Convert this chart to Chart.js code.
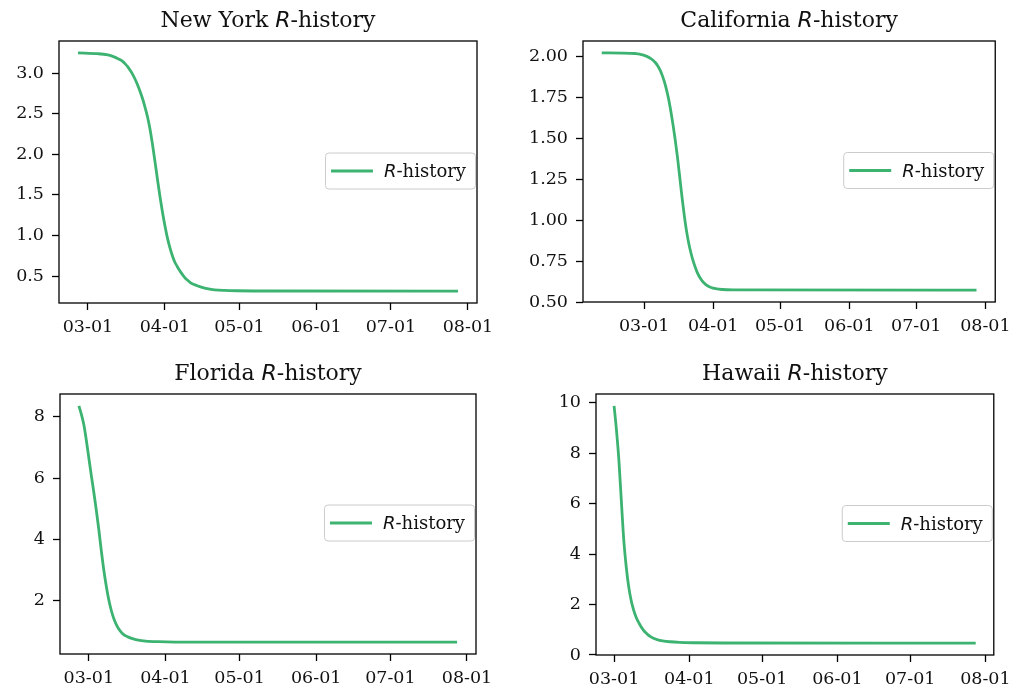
<!DOCTYPE html>
<html>
<head>
<meta charset="utf-8">
<script src="https://cdn.jsdelivr.net/npm/chart.js@4.4.0/dist/chart.umd.min.js"></script>
<style>
    body { margin: 0; background: #fff; }
    #wrap { position: relative; width: 1018px; height: 687px; }
    canvas { position: absolute; }
</style>
</head>
<body>
<div id="wrap">
    <canvas id="nyChart" width="509" height="343" style="left:0;top:0"></canvas>
    <canvas id="caChart" width="509" height="343" style="left:509px;top:0"></canvas>
    <canvas id="flChart" width="509" height="344" style="left:0;top:343px"></canvas>
    <canvas id="hiChart" width="509" height="344" style="left:509px;top:343px"></canvas>
</div>
<script>
// Values
const seriesLabel = 'R-history';

const nyDates = ['2020-02-26', '2020-03-05', '2020-03-09', '2020-03-11', '2020-03-12', '2020-03-13',
    '2020-03-14', '2020-03-15', '2020-03-16', '2020-03-17', '2020-03-18', '2020-03-19', '2020-03-20',
    '2020-03-21', '2020-03-22', '2020-03-23', '2020-03-24', '2020-03-25', '2020-03-26', '2020-03-27',
    '2020-03-28', '2020-03-29', '2020-03-30', '2020-03-31', '2020-04-01', '2020-04-02', '2020-04-03',
    '2020-04-04', '2020-04-05', '2020-04-06', '2020-04-07', '2020-04-08', '2020-04-09', '2020-04-10',
    '2020-04-11', '2020-04-12', '2020-04-14', '2020-04-16', '2020-04-18', '2020-04-21', '2020-04-25',
    '2020-04-30', '2020-05-15', '2020-07-28'];
const nyValues = [3.25, 3.24, 3.225, 3.207, 3.195, 3.18, 3.165, 3.145, 3.115, 3.08, 3.035, 2.985, 2.925,
    2.855, 2.775, 2.685, 2.58, 2.46, 2.31, 2.12, 1.91, 1.69, 1.48, 1.29, 1.12, 0.97, 0.85,
    0.75, 0.67, 0.615, 0.565, 0.52, 0.48, 0.45, 0.425, 0.405, 0.38, 0.36, 0.345, 0.33, 0.322,
    0.318, 0.315, 0.314];

const caDates = ['2020-02-11', '2020-02-20', '2020-02-26', '2020-02-28', '2020-03-01', '2020-03-02',
    '2020-03-03', '2020-03-04', '2020-03-05', '2020-03-06', '2020-03-07', '2020-03-08', '2020-03-09',
    '2020-03-10', '2020-03-11', '2020-03-12', '2020-03-13', '2020-03-14', '2020-03-15', '2020-03-16',
    '2020-03-17', '2020-03-18', '2020-03-19', '2020-03-20', '2020-03-21', '2020-03-22', '2020-03-23',
    '2020-03-24', '2020-03-25', '2020-03-26', '2020-03-27', '2020-03-28', '2020-03-29', '2020-03-30',
    '2020-03-31', '2020-04-02', '2020-04-05', '2020-04-10', '2020-07-28'];
const caValues = [2.023, 2.022, 2.019, 2.016, 2.008, 2.003, 1.996, 1.988, 1.978, 1.964, 1.946, 1.922,
    1.89, 1.85, 1.80, 1.74, 1.665, 1.58, 1.485, 1.38, 1.26, 1.14, 1.03, 0.935, 0.86, 0.80, 0.75,
    0.71, 0.675, 0.65, 0.63, 0.615, 0.603, 0.595, 0.589, 0.582, 0.577, 0.575, 0.573];

const flDates = ['2020-02-26', '2020-02-27', '2020-02-28', '2020-02-29', '2020-03-01', '2020-03-02',
    '2020-03-03', '2020-03-04', '2020-03-05', '2020-03-06', '2020-03-07', '2020-03-08', '2020-03-09',
    '2020-03-10', '2020-03-11', '2020-03-12', '2020-03-13', '2020-03-14', '2020-03-15', '2020-03-16',
    '2020-03-17', '2020-03-19', '2020-03-21', '2020-03-24', '2020-03-29', '2020-04-05', '2020-07-28'];
const flValues = [8.36, 8.08, 7.74, 7.24, 6.67, 6.10, 5.56, 4.98, 4.36, 3.68, 3.05, 2.52, 2.07,
    1.72, 1.45, 1.25, 1.10, 0.99, 0.91, 0.86, 0.82, 0.76, 0.72, 0.69, 0.67, 0.66, 0.655];

const hiDates = ['2020-03-01', '2020-03-02', '2020-03-03', '2020-03-04', '2020-03-05', '2020-03-06',
    '2020-03-07', '2020-03-08', '2020-03-09', '2020-03-10', '2020-03-11', '2020-03-12', '2020-03-13',
    '2020-03-14', '2020-03-15', '2020-03-16', '2020-03-17', '2020-03-19', '2020-03-21', '2020-03-24',
    '2020-03-28', '2020-04-03', '2020-04-15', '2020-07-28'];
const hiValues = [9.88, 8.9, 7.7, 6.1, 4.55, 3.50, 2.72, 2.18, 1.80, 1.52, 1.31, 1.14, 1.00,
    0.89, 0.80, 0.73, 0.675, 0.60, 0.56, 0.525, 0.50, 0.485, 0.475, 0.47];

const xTickDates = ['2020-03-01', '2020-04-01', '2020-05-01', '2020-06-01', '2020-07-01', '2020-08-01'];
const xTickLabels = ['03-01', '04-01', '05-01', '06-01', '07-01', '08-01'];

const nyTicks = [0.5, 1.0, 1.5, 2.0, 2.5, 3.0];
const caTicks = [0.5, 0.75, 1.0, 1.25, 1.5, 1.75, 2.0];
const flTicks = [2, 4, 6, 8];
const hiTicks = [0, 2, 4, 6, 8, 10];

const LINE_COLOR = '#3cb371';
const TICK_FONT = { family: '"DejaVu Serif"', size: 17.5 };

const toMs = s => Date.parse(s + 'T00:00:00Z');

// matplotlib-like 5% margins around the data
function withMargin(arr) {
    const lo = Math.min(...arr), hi = Math.max(...arr), m = (hi - lo) * 0.05;
    return [lo - m, hi + m];
}

function drawParts(ctx, parts, x, y, centered) {
    let total = 0;
    parts.forEach(p => { ctx.font = p.font; p.w = ctx.measureText(p.text).width; total += p.w; });
    let cx = centered ? x - total / 2 : x;
    ctx.textAlign = 'left';
    ctx.textBaseline = 'alphabetic';
    parts.forEach(p => { ctx.font = p.font; ctx.fillText(p.text, cx, y); cx += p.w; });
    return total;
}

// label with a math-italic leading "R"
function labelParts(prefix, label, size) {
    const serif = size + 'px "DejaVu Serif"';
    const parts = [];
    if (prefix) parts.push({ text: prefix, font: serif });
    parts.push({ text: label.charAt(0), font: 'italic ' + size + 'px "DejaVu Sans"' });
    parts.push({ text: label.slice(1), font: serif });
    return parts;
}

const panelDecor = {
    id: 'panelDecor',
    afterDatasetsDraw(chart, args, opts) {
        const a = chart.chartArea;
        const ctx = chart.ctx;
        const ds = chart.data.datasets[0];
        ctx.save();

        // legend, center right
        const size = 18;
        const parts = labelParts('', ds.label, size);
        let tw = 0;
        parts.forEach(p => { ctx.font = p.font; tw += ctx.measureText(p.text).width; });
        const h = 37;
        const w = 6 + 42 + 11 + tw + 10;
        const right = a.right - 1;
        const left = right - w;
        const cy = (a.top + a.bottom) / 2 - 1;
        ctx.beginPath();
        ctx.roundRect(left + 0.5, cy - h / 2 + 0.5, w - 1, h - 1, 3.5);
        ctx.fillStyle = 'rgba(255,255,255,0.8)';
        ctx.fill();
        ctx.strokeStyle = '#cccccc';
        ctx.lineWidth = 1;
        ctx.stroke();
        ctx.beginPath();
        ctx.moveTo(left + 6, cy);
        ctx.lineTo(left + 48, cy);
        ctx.strokeStyle = ds.borderColor;
        ctx.lineWidth = ds.borderWidth;
        ctx.stroke();
        ctx.fillStyle = '#111';
        drawParts(ctx, parts, left + 59, cy + 6, false);

        // axes frame
        ctx.strokeStyle = '#000';
        ctx.lineWidth = 1.3;
        ctx.strokeRect(a.left, a.top, a.right - a.left, a.bottom - a.top);

        // title
        ctx.fillStyle = '#111';
        drawParts(ctx, labelParts(opts.name + ' ', ds.label, 22), (a.left + a.right) / 2, a.top - 14, true);
        ctx.restore();
    }
};

function createPanel(id, name, dates, values, yTicks, decimals, area) {
    const canvas = document.getElementById(id);
    const xs = dates.map(toMs);
    const [xMin, xMax] = withMargin(xs);
    const [yMin, yMax] = withMargin(values);
    new Chart(canvas.getContext('2d'), {
        type: 'line',
        data: {
            datasets: [{
                label: seriesLabel,
                data: xs.map((x, i) => ({ x: x, y: values[i] })),
                borderColor: LINE_COLOR,
                borderWidth: 2.8,
                pointRadius: 0,
                cubicInterpolationMode: 'monotone',
                fill: false
            }]
        },
        options: {
            responsive: false,
            animation: false,
            devicePixelRatio: 1,
            layout: {
                padding: { top: area.top, right: canvas.width - area.right, left: 0, bottom: 0 }
            },
            plugins: {
                legend: { display: false },
                tooltip: { enabled: false },
                panelDecor: { name: name }
            },
            scales: {
                x: {
                    type: 'linear',
                    min: xMin,
                    max: xMax,
                    border: { display: false },
                    grid: { drawOnChartArea: false, tickLength: 7, tickColor: '#000', tickWidth: 1.3 },
                    ticks: {
                        font: TICK_FONT,
                        color: '#111',
                        padding: 7,
                        maxRotation: 0,
                        autoSkip: false,
                        callback: (v, i) => xTickLabels[i]
                    },
                    afterBuildTicks: s => { s.ticks = xTickDates.map(d => ({ value: toMs(d) })); },
                    afterFit: s => { s.height = canvas.height - area.bottom; }
                },
                y: {
                    type: 'linear',
                    min: yMin,
                    max: yMax,
                    border: { display: false },
                    grid: { drawOnChartArea: false, tickLength: 7, tickColor: '#000', tickWidth: 1.3 },
                    ticks: {
                        font: TICK_FONT,
                        color: '#111',
                        padding: 8,
                        callback: v => v.toFixed(decimals)
                    },
                    afterBuildTicks: s => { s.ticks = yTicks.map(v => ({ value: v })); },
                    afterFit: s => { s.width = area.left; }
                }
            }
        },
        plugins: [panelDecor]
    });
}

createPanel('nyChart', 'New York', nyDates, nyValues, nyTicks, 1, { left: 59, top: 41, right: 477, bottom: 303 });
createPanel('caChart', 'California', caDates, caValues, caTicks, 2, { left: 74, top: 41, right: 494, bottom: 302 });
createPanel('flChart', 'Florida', flDates, flValues, flTicks, 0, { left: 60, top: 51, right: 476, bottom: 311 });
createPanel('hiChart', 'Hawaii', hiDates, hiValues, hiTicks, 0, { left: 87, top: 51, right: 492, bottom: 312 });
</script>
</body>
</html>
